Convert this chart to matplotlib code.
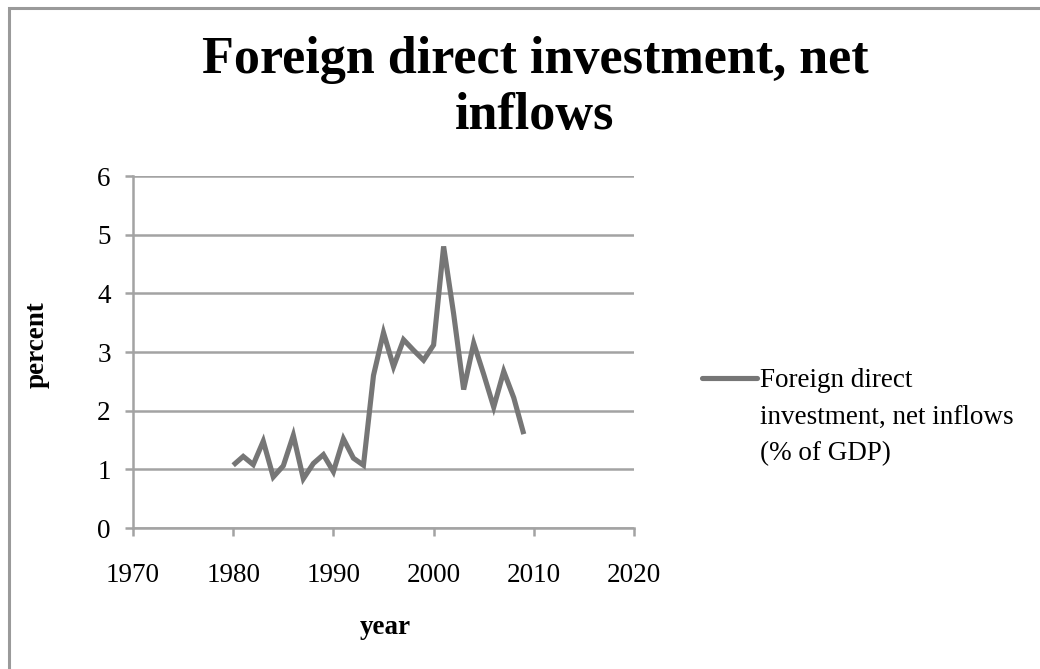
import numpy as np
import matplotlib.pyplot as plt
from matplotlib.lines import Line2D
from matplotlib.patches import Rectangle

# FDI net inflows, % of GDP
years = list(range(1980, 2010))
fdi = [1.07, 1.22, 1.08, 1.48, 0.87, 1.06, 1.58, 0.84, 1.10, 1.25,
       0.96, 1.52, 1.19, 1.07, 2.60, 3.33, 2.75, 3.21, 3.03, 2.86,
       3.12, 4.80, 3.65, 2.36, 3.15, 2.62, 2.06, 2.67, 2.22, 1.60]

xticks = [1970, 1980, 1990, 2000, 2010, 2020]
yticks = [0, 1, 2, 3, 4, 5, 6]

title = "Foreign direct investment, net\ninflows"
series_label = "Foreign direct\ninvestment, net inflows\n(% of GDP)"

line_color = "#767676"
grid_color = "#a3a3a3"
serif = ["Liberation Serif", "DejaVu Serif"]

plt.rcParams['font.family'] = serif

W, H = 1040, 669
fig = plt.figure(figsize=(W / 100, H / 100), dpi=100)

# chart border (left and top edges only show)
fig.patches.append(Rectangle((8.5 / W, -0.1), 1.2, 1 - 7.5 / H + 0.1,
                             transform=fig.transFigure, fill=False,
                             edgecolor="#9a9a9a", linewidth=2.2))

ax = fig.add_axes([133 / W, 1 - 528 / H, (634 - 133) / W, (528 - 176) / H])
ax.plot(years, fdi, color=line_color, linewidth=3.7, solid_joinstyle="miter",
        solid_capstyle="butt")

ax.set_xlim(1970, 2020)
ax.set_ylim(0, 6)
ax.set_xticks(xticks)
ax.set_yticks(yticks)
ax.grid(axis="y", color=grid_color, linewidth=1.8)
ax.set_axisbelow(True)
for side in ["top", "right"]:
    ax.spines[side].set_visible(False)
for side in ["left", "bottom"]:
    ax.spines[side].set_color(grid_color)
    ax.spines[side].set_linewidth(1.8)
ax.tick_params(axis="both", colors=grid_color, length=6, width=1.8,
               labelcolor="black", labelsize=19.5)
ax.tick_params(axis="x", pad=19)
ax.tick_params(axis="y", pad=10)

fig.text(535 / W, 1 - 88 / H, title, ha="center", va="center",
         fontsize=37.5, fontweight="bold", linespacing=1.22)
fig.text(37 / W, 1 - 345 / H, "percent", rotation=90, ha="center",
         va="center", fontsize=19.5, fontweight="bold")
fig.text(385 / W, 1 - 627 / H, "year", ha="center", va="center",
         fontsize=19.5, fontweight="bold")

# legend entry
fig.lines.append(Line2D([702 / W, 757 / W], [1 - 378 / H, 1 - 378 / H],
                        transform=fig.transFigure, color=line_color,
                        linewidth=3.7, solid_capstyle="round"))
fig.text(760 / W, 1 - 368 / H, series_label, ha="left", va="top",
         fontsize=19.5, linespacing=1.62)

fig.savefig("out.png", dpi=100)
